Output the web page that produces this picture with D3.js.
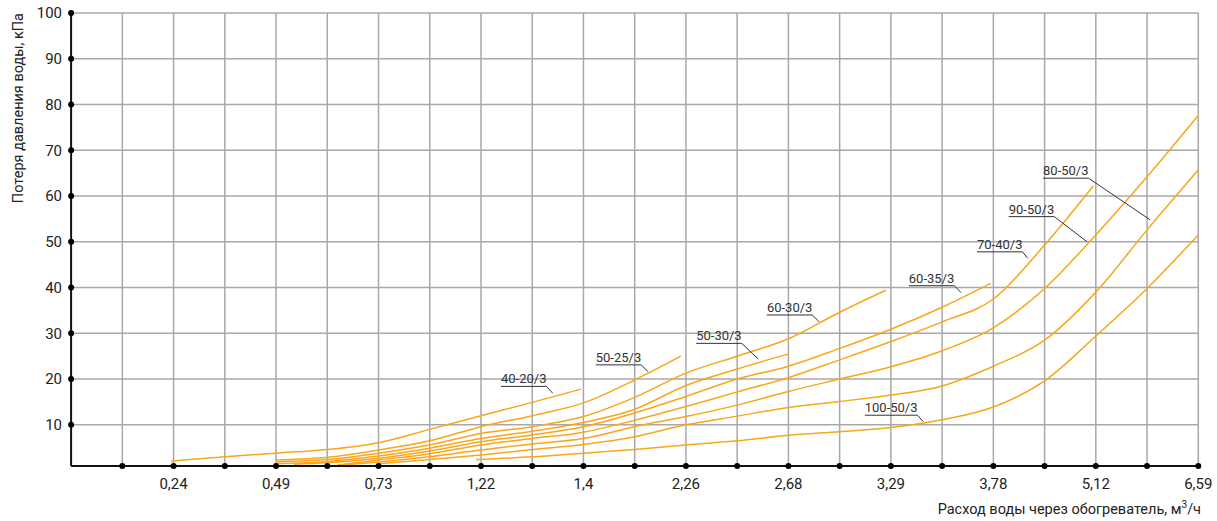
<!DOCTYPE html>
<html><head><meta charset="utf-8">
<script src="https://cdn.jsdelivr.net/npm/d3@7"></script>
<style>body{margin:0;background:#fff}svg{display:block}text{font-family:Roboto,"DejaVu Sans",sans-serif}</style>
</head><body><div id="c"></div>
<script>
// x axis: positions are grid indices (0..22); labels at even indices
const xTickLabels = ["0,24","0,49","0,73","1,22","1,4","2,26","2,68","3,29","3,78","5,12","6,59"];
const xTickIdx = [2,4,6,8,10,12,14,16,18,20,22];
const yTicks = [10,20,30,40,50,60,70,80,90,100];

const s4020 = [[1.95,2.1],[3,3.0],[4,3.8],[5,4.6],[6,6.1],[7,9.0],[8,12.0],[9,14.9],[9.95,17.8]];
const s5025 = [[4,2.3],[5,2.9],[6,4.5],[7,6.5],[8,9.6],[9,12.0],[10,14.8],[11,19.8],[11.9,25.0]];
const s6030 = [[4,1.9],[5,2.4],[6,3.8],[7,5.6],[8,8.1],[9,9.6],[10,11.8],[11,16.0],[12,21.3],[13,25.0],[14,28.8],[15,34.6],[15.9,39.4]];
const s5030 = [[4,1.5],[5,2.0],[6,3.2],[7,4.9],[8,7.0],[9,8.6],[10,10.5],[11,13.4],[12,18.6],[13,22.2],[14,25.5]];
const s6035 = [[4.35,1.4],[5,1.7],[6,2.7],[7,4.3],[8,6.3],[9,7.8],[10,9.6],[11,12.6],[12,16.2],[13,20.0],[14,22.8],[15,26.7],[16,30.9],[17,35.7],[17.95,40.9]];
const s7040 = [[5.2,1.2],[6,2.3],[7,3.7],[8,5.6],[9,7.0],[10,8.4],[11,11.0],[12,14.0],[13,17.2],[14,20.3],[15,24.2],[16,28.2],[17,32.5],[18,37.5],[19,49.3],[19.95,62.2]];
const s9050 = [[5.2,1.1],[6,1.9],[7,3.0],[8,4.5],[9,5.8],[10,7.0],[11,9.6],[12,11.8],[13,14.3],[14,17.3],[15,20.0],[16,22.7],[17,26.2],[18,31.2],[19,39.8],[20,51.5],[21,64.2],[22,77.6]];
const s8050 = [[6,1.5],[7,2.4],[8,3.4],[9,4.6],[10,5.7],[11,7.4],[12,10.0],[13,11.9],[14,13.8],[15,15.1],[16,16.5],[17,18.5],[18,22.8],[19,28.5],[20,39.0],[21,52.6],[22,65.7]];
const s10050 = [[7.9,2.4],[9,3.0],[10,3.8],[11,4.6],[12,5.6],[13,6.5],[14,7.7],[15,8.5],[16,9.4],[17,11.1],[18,13.9],[19,19.6],[20,29.4],[21,39.8],[22,51.5]];
const seriesList = [s4020,s5025,s6030,s5030,s6035,s7040,s9050,s8050,s10050];

// annotations: name, label anchor [idx,val], leader end [idx,val]
const annNames = ["40-20/3","50-25/3","50-30/3","60-30/3","60-35/3","70-40/3","90-50/3","80-50/3","100-50/3"];
const annAt = [[8.39,18.4],[10.24,23.1],[12.20,27.8],[13.58,34.0],[16.35,40.4],[17.68,47.8],[18.30,55.5],[18.97,63.9],[15.49,12.1]];
const annEnd = [[9.40,16.9],[11.26,21.6],[13.41,24.4],[14.60,32.5],[17.37,38.9],[18.67,46.4],[19.83,50.0],[21.06,54.8],[16.63,10.7]];

const W=1217,H=521;
const svg=d3.select("#c").append("svg").attr("width",W).attr("height",H);
const x=d3.scaleLinear().domain([0,22]).range([71.1,1198.3]);
const y=d3.scaleLinear().domain([1,100]).range([466,13]);

const grid=svg.append("g").attr("stroke","#a8a8a8").attr("stroke-width",1.5);
grid.selectAll("line.v").data(d3.range(1,23)).join("line")
  .attr("x1",d=>x(d)).attr("x2",d=>x(d)).attr("y1",y(100)).attr("y2",y(1));
grid.selectAll("line.h").data(yTicks).join("line")
  .attr("x1",x(0)).attr("x2",x(22)).attr("y1",d=>y(d)).attr("y2",d=>y(d));

const line=d3.line().x(d=>x(d[0])).y(d=>y(d[1])).curve(d3.curveMonotoneX);
svg.append("g").selectAll("path").data(seriesList).join("path")
  .attr("d",line).attr("fill","none").attr("stroke","#f9a61a").attr("stroke-width",1.5);

// axes
svg.append("line").attr("x1",x(0)).attr("x2",x(22)).attr("y1",y(1)).attr("y2",y(1)).attr("stroke","#111").attr("stroke-width",2);
svg.append("line").attr("x1",x(0)).attr("x2",x(0)).attr("y1",y(1)).attr("y2",y(100)).attr("stroke","#111").attr("stroke-width",2);
svg.append("g").selectAll("circle").data(d3.range(1,23)).join("circle")
  .attr("cx",d=>x(d)).attr("cy",y(1)).attr("r",3).attr("fill","#000");
svg.append("g").selectAll("circle").data(yTicks).join("circle")
  .attr("cx",x(0)).attr("cy",d=>y(d)).attr("r",3).attr("fill","#000");

svg.append("g").selectAll("text").data(xTickIdx).join("text")
  .attr("x",d=>x(d)).attr("y",489).attr("text-anchor","middle")
  .attr("font-size",15).attr("fill","#222").text((d,i)=>xTickLabels[i]);
svg.append("g").selectAll("text").data(yTicks).join("text")
  .attr("x",62).attr("y",d=>y(d)).attr("dy","0.35em").attr("text-anchor","end")
  .attr("font-size",15).attr("fill","#222").text(d=>d);

svg.append("text").attr("transform","translate(23,13) rotate(-90)").attr("text-anchor","end")
  .attr("font-size",14.5).attr("fill","#222").text("Потеря давления воды, кПа");
const xt=svg.append("text").attr("x",1201).attr("y",514).attr("text-anchor","end")
  .attr("font-size",14.5).attr("fill","#222");
xt.append("tspan").text("Расход воды через обогреватель, м");
xt.append("tspan").attr("dy",-6).attr("font-size",10).text("3");
xt.append("tspan").attr("dy",6).text("/ч");

// annotations
const ag=svg.append("g");
annNames.forEach((n,i)=>{
  const tx=x(annAt[i][0]), ty=y(annAt[i][1]);
  const t=ag.append("text").attr("x",tx).attr("y",ty-3).attr("font-size",13).attr("fill","#333").text(n);
  const w=t.node().getComputedTextLength();
  ag.append("line").attr("x1",tx).attr("x2",tx+w).attr("y1",ty).attr("y2",ty).attr("stroke","#333").attr("stroke-width",1);
  ag.append("line").attr("x1",tx+w).attr("y1",ty).attr("x2",x(annEnd[i][0])).attr("y2",y(annEnd[i][1])).attr("stroke","#333").attr("stroke-width",1);
});
</script></body></html>
